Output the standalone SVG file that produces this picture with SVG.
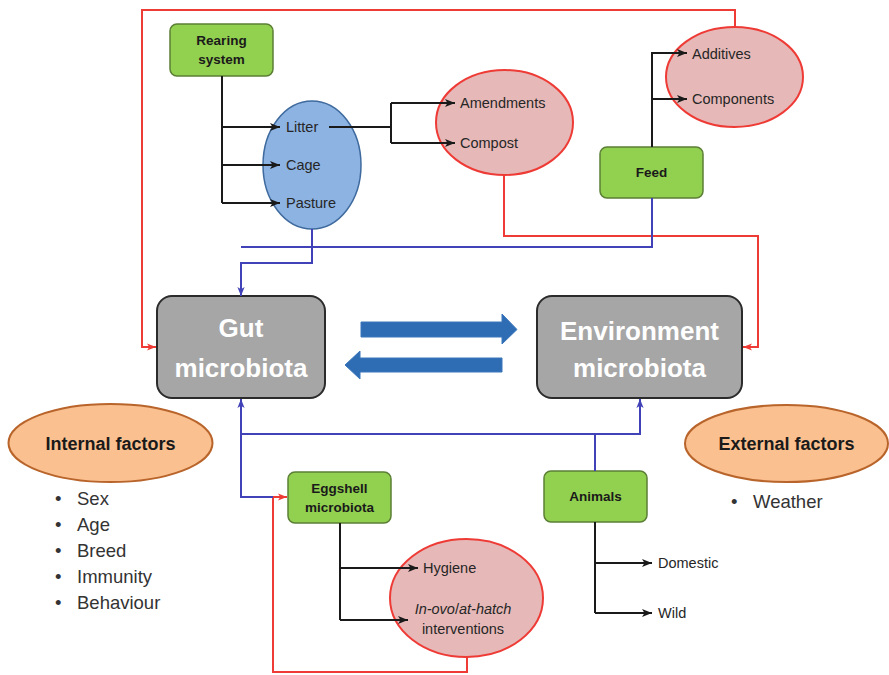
<svg xmlns="http://www.w3.org/2000/svg" width="889" height="675" viewBox="0 0 889 675">
<style>
.box-green{fill:#92d050;stroke:#5b7f34;stroke-width:1.5}
.box-gray{fill:#a6a6a6;stroke:#2b2b2b;stroke-width:2}
.ell-red{fill:#e6b9b8;stroke:#ee3b36;stroke-width:2}
.ell-blue{fill:#8db3e2;stroke:#3e6a9e;stroke-width:1.5}
.ell-orange{fill:#fac090;stroke:#b8642a;stroke-width:2}
.lbl{font-family:"Liberation Sans",Arial,sans-serif;font-size:14.5px;fill:#262626}
.blbl{font-family:"Liberation Sans",Arial,sans-serif;font-size:13.5px;font-weight:bold;fill:#1a1a1a;text-anchor:middle}
.big{font-family:"Liberation Sans",Arial,sans-serif;font-size:26px;font-weight:bold;fill:#ffffff;text-anchor:middle}
.fac{font-family:"Liberation Sans",Arial,sans-serif;font-size:18px;font-weight:bold;fill:#1a1a1a;text-anchor:middle}
.bul{font-family:"Liberation Sans",Arial,sans-serif;font-size:18.5px;fill:#333333}
.blk{fill:none;stroke:#1a1a1a;stroke-width:2}
.red{fill:none;stroke:#ee3b36;stroke-width:2}
.blu{fill:none;stroke:#4242b8;stroke-width:2}
.fat{fill:#2e6db4;stroke:#3a76bb;stroke-width:1}
</style>
<defs>
<marker id="ab" markerUnits="userSpaceOnUse" markerWidth="10" markerHeight="10" viewBox="0 0 10 10" refX="10" refY="5" orient="auto"><path d="M0,1 L10,5 L0,9 L2.5,5 z" fill="#1a1a1a"/></marker>
<marker id="ar" markerUnits="userSpaceOnUse" markerWidth="9" markerHeight="9" viewBox="0 0 10 10" refX="10" refY="5" orient="auto"><path d="M0,1 L10,5 L0,9 L2.5,5 z" fill="#ee3b36"/></marker>
<marker id="au" markerUnits="userSpaceOnUse" markerWidth="9" markerHeight="9" viewBox="0 0 10 10" refX="10" refY="5" orient="auto"><path d="M0,1 L10,5 L0,9 L2.5,5 z" fill="#4242b8"/></marker>
</defs>
<rect width="889" height="675" fill="#ffffff"/>

<g id="rearing">
<rect class="box-green" x="170" y="24" width="103" height="52" rx="7"/>
<text class="blbl" x="221.5" y="45">Rearing</text>
<text class="blbl" x="221.5" y="64">system</text>
</g>

<g id="housing">
<ellipse class="ell-blue" cx="312" cy="165" rx="49" ry="64"/>
<text class="lbl" x="286" y="132">Litter</text>
<text class="lbl" x="286" y="170">Cage</text>
<text class="lbl" x="286" y="208">Pasture</text>
</g>

<g id="litter-treatment">
<ellipse class="ell-red" cx="504.5" cy="122.5" rx="68.5" ry="52.5"/>
<text class="lbl" x="460" y="108">Amendments</text>
<text class="lbl" x="460" y="148">Compost</text>
</g>

<g id="feed-content">
<ellipse class="ell-red" cx="734.5" cy="77" rx="68.5" ry="50"/>
<text class="lbl" x="692" y="59">Additives</text>
<text class="lbl" x="692" y="104">Components</text>
</g>

<g id="feed">
<rect class="box-green" x="600" y="147" width="103" height="51" rx="7"/>
<text class="blbl" x="651.5" y="177">Feed</text>
</g>

<g id="gut">
<rect class="box-gray" x="157" y="296" width="168" height="102" rx="15"/>
<text class="big" x="241" y="337">Gut</text>
<text class="big" x="241" y="377">microbiota</text>
</g>

<g id="environment">
<rect class="box-gray" x="537" y="296" width="205" height="102" rx="15"/>
<text class="big" x="639.5" y="340">Environment</text>
<text class="big" x="639.5" y="377">microbiota</text>
</g>

<g id="internal">
<ellipse class="ell-orange" cx="110.5" cy="443" rx="102" ry="39"/>
<text class="fac" x="110.5" y="449.5">Internal factors</text>
<g class="bul">
<text x="55" y="505">•</text><text x="77" y="505">Sex</text>
<text x="55" y="531">•</text><text x="77" y="531">Age</text>
<text x="55" y="557">•</text><text x="77" y="557">Breed</text>
<text x="55" y="583">•</text><text x="77" y="583">Immunity</text>
<text x="55" y="609">•</text><text x="77" y="609">Behaviour</text>
</g>
</g>

<g id="external">
<ellipse class="ell-orange" cx="786.5" cy="443.5" rx="101.5" ry="38.5"/>
<text class="fac" x="786.5" y="450">External factors</text>
<g class="bul">
<text x="731" y="508">•</text><text x="753" y="508">Weather</text>
</g>
</g>

<g id="eggshell">
<rect class="box-green" x="288" y="472" width="103" height="51" rx="7"/>
<text class="blbl" x="339.5" y="493">Eggshell</text>
<text class="blbl" x="339.5" y="512">microbiota</text>
</g>

<g id="egg-measures">
<ellipse class="ell-red" cx="466.5" cy="598" rx="76.5" ry="59"/>
<text class="lbl" x="423" y="573">Hygiene</text>
<text class="lbl" x="463" y="614" text-anchor="middle"><tspan font-style="italic">In-ovo</tspan>/<tspan font-style="italic">at-hatch</tspan></text>
<text class="lbl" x="463" y="634" text-anchor="middle">interventions</text>
</g>

<g id="animals">
<rect class="box-green" x="544" y="471" width="103" height="51" rx="7"/>
<text class="blbl" x="595.5" y="501">Animals</text>
</g>

<g id="animal-types">
<text class="lbl" x="658" y="568">Domestic</text>
<text class="lbl" x="658" y="618">Wild</text>
</g>

<g id="connectors">
<!-- red -->
<path class="red" d="M735,27 V10 H142 V347 H156" marker-end="url(#ar)"/>
<path class="red" d="M504,175 V236 H758 V347 H743" marker-end="url(#ar)"/>
<path class="red" d="M467,657 V672 H273 V497 H287" marker-end="url(#ar)"/>
<!-- blue -->
<path class="blu" d="M312,229 V263 H241 V296" marker-end="url(#au)"/>
<path class="blu" d="M652,198 V247 H241"/>
<path class="blu" d="M595,471 V434 H640 V399" marker-end="url(#au)"/>
<path class="blu" d="M595,434 H241"/>
<path class="blu" d="M273,497 H241 V399" marker-end="url(#au)"/>
<!-- black -->
<path class="blk" d="M222,76 V203"/>
<path class="blk" d="M222,127 H280" marker-end="url(#ab)"/>
<path class="blk" d="M222,165 H280" marker-end="url(#ab)"/>
<path class="blk" d="M222,203 H280" marker-end="url(#ab)"/>
<path class="blk" d="M329,127 H391"/>
<path class="blk" d="M391,103 V143"/>
<path class="blk" d="M391,103 H455" marker-end="url(#ab)"/>
<path class="blk" d="M391,143 H455" marker-end="url(#ab)"/>
<path class="blk" d="M652,147 V53 H687" marker-end="url(#ab)"/>
<path class="blk" d="M652,99 H687" marker-end="url(#ab)"/>
<path class="blk" d="M340,523 V620"/>
<path class="blk" d="M340,568 H418" marker-end="url(#ab)"/>
<path class="blk" d="M340,620 H408" marker-end="url(#ab)"/>
<path class="blk" d="M595,522 V613"/>
<path class="blk" d="M595,563 H652" marker-end="url(#ab)"/>
<path class="blk" d="M595,613 H652" marker-end="url(#ab)"/>
<!-- exchange arrows -->
<polygon class="fat" points="361,322 502,322 502,314 517,329.5 502,344 502,337 361,337"/>
<polygon class="fat" points="502,358 360,358 360,351 345,365 360,379 360,372 502,372"/>
</g>
</svg>
